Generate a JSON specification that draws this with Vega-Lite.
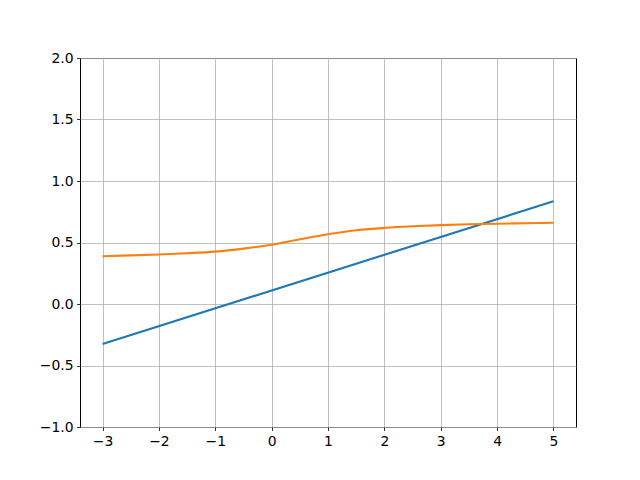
{
  "$schema": "https://vega.github.io/schema/vega-lite/v6.json",
  "width": 496,
  "height": 369,
  "autosize": {"type": "none"},
  "padding": {"left": 80, "top": 58, "right": 64, "bottom": 53},
  "background": "white",
  "config": {
    "view": {"stroke": "black", "strokeWidth": 1},
    "axis": {
      "domain": false,
      "grid": true,
      "gridColor": "#b0b0b0",
      "gridWidth": 0.8,
      "tickColor": "black",
      "tickSize": 3.5,
      "tickWidth": 0.8,
      "labelFont": "DejaVu Sans",
      "labelFontSize": 13.9,
      "labelColor": "black",
      "labelPadding": 3.5,
      "title": null
    }
  },
  "data": {
    "values": [
      {"s": "a", "x": -3, "y": -0.325},
      {"s": "a", "x": 5, "y": 0.835},
      {"s": "b", "x": -3, "y": 0.388},
      {"s": "b", "x": -2.5, "y": 0.395},
      {"s": "b", "x": -2, "y": 0.403},
      {"s": "b", "x": -1.5, "y": 0.413},
      {"s": "b", "x": -1, "y": 0.426},
      {"s": "b", "x": -0.5, "y": 0.450},
      {"s": "b", "x": 0, "y": 0.482},
      {"s": "b", "x": 0.5, "y": 0.526},
      {"s": "b", "x": 1, "y": 0.567},
      {"s": "b", "x": 1.5, "y": 0.599},
      {"s": "b", "x": 2, "y": 0.619},
      {"s": "b", "x": 2.5, "y": 0.632},
      {"s": "b", "x": 3, "y": 0.641},
      {"s": "b", "x": 3.5, "y": 0.648},
      {"s": "b", "x": 4, "y": 0.653},
      {"s": "b", "x": 4.5, "y": 0.657},
      {"s": "b", "x": 5, "y": 0.661}
    ]
  },
  "mark": {"type": "line", "strokeWidth": 2.1, "clip": true, "interpolate": "monotone"},
  "encoding": {
    "x": {
      "field": "x", "type": "quantitative",
      "scale": {"domain": [-3.4, 5.4], "nice": false, "zero": false},
      "axis": {"values": [-3, -2, -1, 0, 1, 2, 3, 4, 5], "format": "d"}
    },
    "y": {
      "field": "y", "type": "quantitative",
      "scale": {"domain": [-1, 2], "nice": false, "zero": false},
      "axis": {"values": [-1, -0.5, 0, 0.5, 1, 1.5, 2], "format": ".1f"}
    },
    "color": {
      "field": "s", "type": "nominal",
      "scale": {"domain": ["a", "b"], "range": ["#1f77b4", "#ff7f0e"]},
      "legend": null
    }
  }
}
